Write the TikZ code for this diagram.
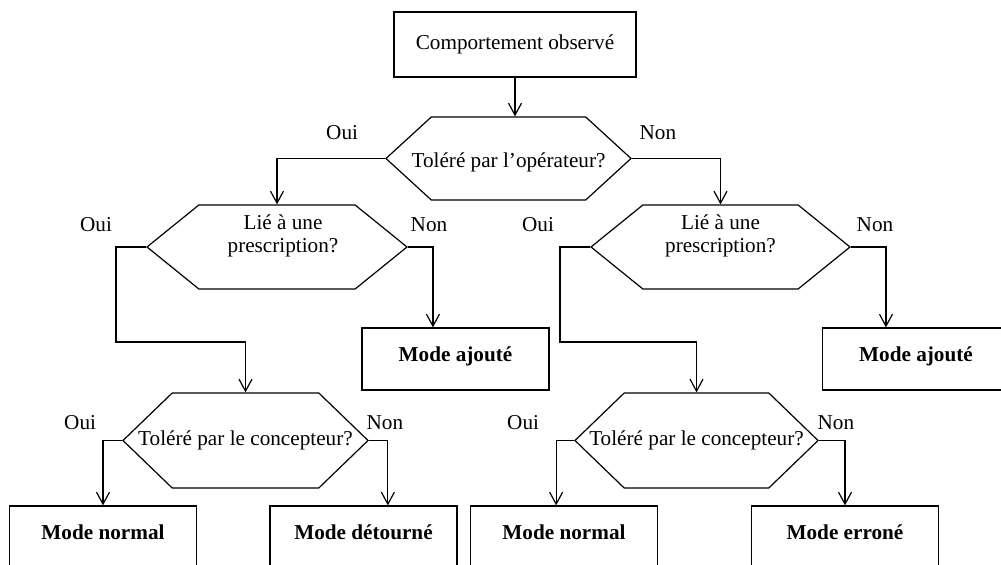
\documentclass[tikz,border=0pt]{standalone}
\usepackage{fontspec}
\setmainfont{Liberation Serif}
\usetikzlibrary{shapes.symbols,arrows.meta,calc}

\begin{document}
\begin{tikzpicture}[x=0.5pt,y=-0.5pt,->,>={Straight Barb[length=6pt,width=6.5pt]},
      line width=0.6pt,every node/.style={font=\fontsize{10.6}{11.5}\selectfont},
      startbox/.style={draw,minimum width=121pt,minimum height=32.5pt},
      decision/.style={draw,shape=signal,signal to=west and east,inner sep=0pt},
      modebox/.style={draw,font=\fontsize{10.6}{11.5}\selectfont\bfseries,
        minimum width=93.5pt,minimum height=31pt,text height=7.5pt,text depth=5pt},
      lowbox/.style={modebox,minimum height=40pt,text depth=14pt},
      answer/.style={inner sep=0pt}]
    \useasboundingbox (0,0) rectangle (1001,565);
    \clip (0,0) rectangle (1001,565);
    % boxes and questions
    \node[startbox] (obs) at (515,44.5) {Comportement observé};
    \node[decision,minimum width=122.5pt,minimum height=41.5pt,signal pointer angle=85,
      label={[yshift=-2pt]center:Toléré par l’opérateur?}] (q1) at (508.5,158.5) {};
    \node[decision,minimum width=130pt,minimum height=42pt,signal pointer angle=78,
      label={[align=center,xshift=3pt,yshift=5.5pt]center:Lié à une\\prescription?}] (p1) at (277,247) {};
    \node[decision,minimum width=129.5pt,minimum height=42pt,signal pointer angle=78,
      label={[align=center,yshift=5.5pt]center:Lié à une\\prescription?}] (p2) at (720.5,247) {};
    \node[modebox] (m1) at (455.5,359) {Mode ajouté};
    \node[modebox] (m2) at (916,359) {Mode ajouté};
    \node[decision,minimum width=122.5pt,minimum height=47.5pt,signal pointer angle=88,
      label={center:Toléré par le concepteur?}] (c1) at (245.5,440.5) {};
    \node[decision,minimum width=121.5pt,minimum height=47.5pt,signal pointer angle=88,
      label={center:Toléré par le concepteur?}] (c2) at (696.5,440.5) {};
    \node[lowbox] (n1) at (103,546) {Mode normal};
    \node[lowbox] (d1) at (363.5,546) {Mode détourné};
    \node[lowbox] (n2) at (564,546) {Mode normal};
    \node[lowbox] (e2) at (845,546) {Mode erroné};
    % answers
    \node[answer] (q1o) at ($(q1.west)+(-43,-26)$) {Oui};
    \node[answer] (q1n) at ($(q1.east)+(26,-26)$) {Non};
    \node[answer] (p1o) at ($(p1.west)+(-50,-22)$) {Oui};
    \node[answer] (p1n) at ($(p1.east)+(21,-22)$) {Non};
    \node[answer] (p2o) at ($(p2.west)+(-52,-22)$) {Oui};
    \node[answer] (p2n) at ($(p2.east)+(24,-22)$) {Non};
    \node[answer] (c1o) at ($(c1.west)+(-42,-18)$) {Oui};
    \node[answer] (c1n) at ($(c1.east)+(16,-18)$) {Non};
    \node[answer] (c2o) at ($(c2.west)+(-51,-18)$) {Oui};
    \node[answer] (c2n) at ($(c2.east)+(17,-18)$) {Non};
    % connectors
    \draw (obs) -- (obs |- q1.north);
    \draw (q1.west) -| (p1.north);
    \draw (q1.east) -| (p2.north);
    \draw (p1.west) -| ++(-30,95) -| (c1.north);
    \draw (p1.east) -| ($(p1.east |- m1.north)+(25,0)$);
    \draw (p2.west) -| ++(-30,95) -| (c2.north);
    \draw (p2.east) -| ($(p2.east |- m2.north)+(35,0)$);
    \draw (c1.west) -| (n1.north);
    \draw (c1.east) -| ($(c1.east |- d1.north)+(19,0)$);
    \draw (c2.west) -| ($(c2.west |- n2.north)+(-18,0)$);
    \draw (c2.east) -| (e2.north);
  \end{tikzpicture}
\end{document}
